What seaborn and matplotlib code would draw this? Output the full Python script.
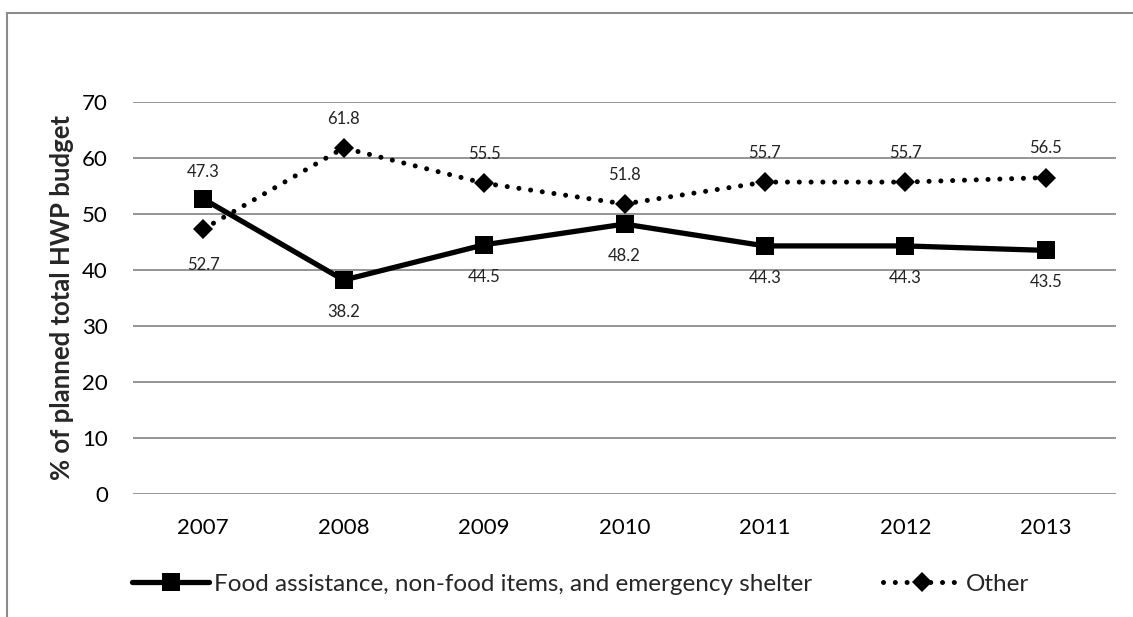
import matplotlib
matplotlib.use("Agg")
import matplotlib.pyplot as plt
import seaborn as sns
import pandas as pd
from matplotlib.lines import Line2D

years = [2007, 2008, 2009, 2010, 2011, 2012, 2013]
food = [52.7, 38.2, 44.5, 48.2, 44.3, 44.3, 43.5]
other = [47.3, 61.8, 55.5, 51.8, 55.7, 55.7, 56.5]
food_label = "Food assistance, non-food items, and emergency shelter"
other_label = "Other"
y_title = "% of planned total HWP budget"

sns.set_theme(style="white")
plt.rcParams['font.family'] = ['Lato', 'DejaVu Sans']

df = pd.DataFrame({"year": years, "food": food, "other": other})

fig = plt.figure(figsize=(11.33, 6.17), dpi=100)
ax = fig.add_axes([133/1133, 1-494/617, (1116-133)/1133, (494-102)/617])

for v in range(0, 71, 10):
    ax.axhline(v, color="#8c8c8c", lw=1.3, zorder=0)

sns.lineplot(data=df, x="year", y="food", ax=ax, color="black", lw=3.8,
             marker="s", markersize=13, markeredgewidth=0, clip_on=False,
             label=food_label, zorder=3)
sns.lineplot(data=df, x="year", y="other", ax=ax, color="black", lw=3.6,
             linestyle=(0, (0.01, 2.35)), dash_capstyle="round",
             marker="D", markersize=10, markeredgewidth=0, clip_on=False,
             label=other_label, zorder=3)
for line in ax.get_lines():
    if line.get_linestyle() != '-':
        line.set_dash_capstyle("round")

# data labels; in 2007 the two labels sit swapped (above the square / below the diamond)
for i, y in enumerate(years):
    if i == 0:
        ax.annotate(f"{other[0]:.1f}", (y, food[0]), xytext=(0, 19),
                    textcoords="offset points", ha="center", va="center",
                    fontsize=12, color="#222222", zorder=4)
        ax.annotate(f"{food[0]:.1f}", (y, other[0]), xytext=(0, -26),
                    textcoords="offset points", ha="center", va="center",
                    fontsize=12, color="#222222", zorder=4)
    else:
        ax.annotate(f"{food[i]:.1f}", (y, food[i]), xytext=(0, -23),
                    textcoords="offset points", ha="center", va="center",
                    fontsize=12, color="#222222", zorder=4)
        ax.annotate(f"{other[i]:.1f}", (y, other[i]), xytext=(0, 21),
                    textcoords="offset points", ha="center", va="center",
                    fontsize=12, color="#222222", zorder=4)

ax.set_xlim(2006.5, 2013.5)
ax.set_ylim(0, 70)
ax.set_xticks(years)
ax.set_xticklabels([str(y) for y in years])
ax.set_yticks(range(0, 71, 10))
ax.tick_params(axis="both", length=0, labelsize=16, colors="black")
ax.tick_params(axis="y", pad=18)
ax.tick_params(axis="x", pad=17)
for s in ax.spines.values():
    s.set_visible(False)
ax.set_xlabel("")
ax.set_ylabel(y_title, fontsize=18.5, fontweight="bold", labelpad=6)

leg = ax.legend(loc="center", bbox_to_anchor=(0.455, 1-(584-102)/(494-102)), ncol=2,
                frameon=False, fontsize=17.5, handlelength=3.2, handletextpad=0.2,
                columnspacing=2.9, numpoints=1)

# outer border
c = "#8c8c8c"
fig.add_artist(Line2D([7/1133, 7/1133], [0, 1-13/617], color=c, lw=1.5, transform=fig.transFigure))
fig.add_artist(Line2D([7/1133, 1], [1-13/617, 1-13/617], color=c, lw=1.5, transform=fig.transFigure))

fig.savefig("out.png", dpi=100)
